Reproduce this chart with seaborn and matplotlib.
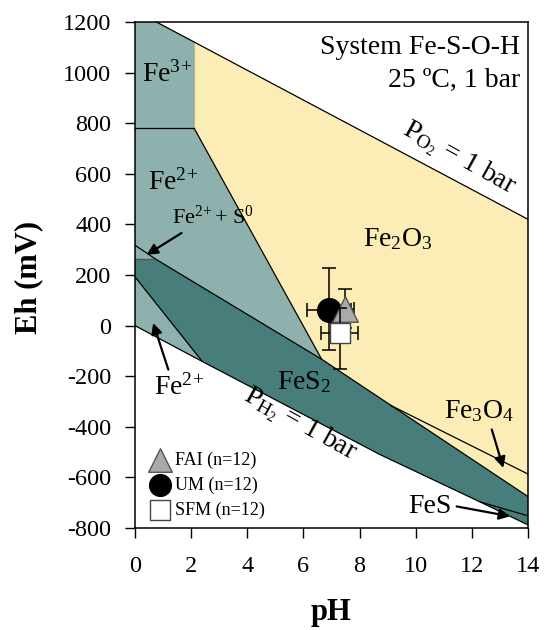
import numpy as np
import pandas as pd
import seaborn as sns
import matplotlib
matplotlib.use("Agg")
import matplotlib.pyplot as plt

# limites des champs de stabilité (pH, Eh en mV)
o2_ph = [0.77, 14]
o2_eh = [1200, 420]
h2_ph = [0, 2.4, 8.73, 12.29, 14]
h2_eh = [0, -142, -510, -697, -788]
fe3_ph = [0, 2.11]
fe3_eh = [780, 780]
vert_ph = [2.11, 2.11]
vert_eh = [780, 1121]
hem_ph = [2.11, 6.65]
hem_eh = [780, -133]
pyr_top_ph = [0, 0.72, 6.65, 14]
pyr_top_eh = [318, 264, -133, -676]
s0_ph = [0, 0.72]
s0_eh = [264, 264]
pyr_low_ph = [0, 2.4]
pyr_low_eh = [193, -142]
mag_ph = [9.1, 14]
mag_eh = [-315, -587]
fes_ph = [12.29, 14]
fes_eh = [-697, -752]

# données des sites
sites = ["UM (n=12)", "FAI (n=12)", "SFM (n=12)"]
site_ph = [6.9, 7.48, 7.3]
site_eh = [63, 66, -29]
ph_err = [0.78, 0.33, 0.66]
eh_err_low = [160, 77, 143]
eh_err_high = [165, 77, 100]

df = pd.DataFrame({"site": sites, "pH": site_ph, "Eh": site_eh,
                   "xerr": ph_err, "ylo": eh_err_low, "yhi": eh_err_high})

sns.set_style("ticks")
plt.rcParams["font.family"] = ["Liberation Serif", "DejaVu Serif"]
plt.rcParams["mathtext.fontset"] = "custom"
plt.rcParams["mathtext.rm"] = "Liberation Serif"
plt.rcParams["mathtext.it"] = "Liberation Serif:italic"
plt.rcParams["mathtext.bf"] = "Liberation Serif:bold"
plt.rcParams["axes.unicode_minus"] = False
for k in ["text.color", "axes.labelcolor", "xtick.color", "ytick.color", "axes.edgecolor"]:
    plt.rcParams[k] = "black"

light = "#8FB1AE"
dark = "#477D7B"
yellow = "#FBEDB5"

fig = plt.figure(figsize=(5.44, 6.30), dpi=100)
ax = fig.add_axes([0.248, 0.162, 0.7226, 0.803])

# champs colorés
o2_at = o2_eh[0] + (o2_eh[1] - o2_eh[0]) / (o2_ph[1] - o2_ph[0]) * (vert_ph[0] - o2_ph[0])
ax.fill([0, o2_ph[0], vert_ph[0], hem_ph[0], hem_ph[1], h2_ph[1], 0],
        [1200, o2_eh[0], o2_at, hem_eh[0], hem_eh[1], h2_eh[1], 0],
        color=light, lw=0, zorder=1)
ax.fill([0] + pyr_top_ph + [14] + h2_ph[::-1][1:-1] + [0],
        [s0_eh[0]] + [pyr_top_eh[1], pyr_top_eh[1]] + pyr_top_eh[2:] + [h2_eh[-1]] + h2_eh[::-1][1:-1] + [pyr_low_eh[0]],
        color=dark, lw=0, zorder=1)
ax.fill([vert_ph[0], o2_ph[1], 14, pyr_top_ph[3], hem_ph[1], hem_ph[0]],
        [o2_at, o2_eh[1], pyr_top_eh[3], pyr_top_eh[3], hem_eh[1], hem_eh[0]],
        color=yellow, lw=0, zorder=1)

# lignes de séparation
lines = [(o2_ph, o2_eh), (h2_ph, h2_eh), (fe3_ph, fe3_eh), (vert_ph, vert_eh),
         (hem_ph, hem_eh), (pyr_top_ph[1:], pyr_top_eh[1:]), (pyr_low_ph, pyr_low_eh),
         (mag_ph, mag_eh), (fes_ph, fes_eh)]
for xs, ys in lines:
    sns.lineplot(x=xs, y=ys, sort=False, color="black", lw=0.9, ax=ax, zorder=2)
ax.plot(pyr_top_ph[:2], pyr_top_eh[:2], color="black", lw=0.9, zorder=2)
ax.plot(s0_ph, s0_eh, color="#555555", lw=0.9, zorder=2)

# points avec barres d'erreur
styles = {
    "UM (n=12)": dict(marker="o", s=290, color="black", edgecolor="black"),
    "FAI (n=12)": dict(marker="^", s=340, color="#AAAAAA", edgecolor="#555555"),
    "SFM (n=12)": dict(marker="s", s=225, color="white", edgecolor="#444444"),
}
z = 5
for _, r in df.iterrows():
    ax.errorbar(r["pH"], r["Eh"], xerr=r["xerr"], yerr=[[r["ylo"]], [r["yhi"]]],
                fmt="none", ecolor="black", elinewidth=1.1, capsize=5, capthick=1.1, zorder=z)
    sns.scatterplot(x=[r["pH"]], y=[r["Eh"]], linewidth=1, zorder=z + 1,
                    label=r["site"], ax=ax, **styles[r["site"]])
    z += 2

handles, labels = ax.get_legend_handles_labels()
order = [labels.index(s) for s in ["FAI (n=12)", "UM (n=12)", "SFM (n=12)"]]
ax.legend([handles[i] for i in order], [labels[i] for i in order],
          loc="lower left", bbox_to_anchor=(0.018, 0.0), frameon=False,
          fontsize=13, markerscale=0.92, handlelength=1.0, handletextpad=0.35,
          labelspacing=0.42, borderaxespad=0.1)

# étiquettes
fs = 20
ax.text(13.72, 1074, "System Fe-S-O-H", ha="right", va="baseline", fontsize=fs)
ax.text(13.72, 943, "25 ºC, 1 bar", ha="right", va="baseline", fontsize=fs)
ax.text(11.55, 663, r"P$_{\mathrm{O}_2}$ = 1 bar", ha="center", va="center",
        rotation=-29, fontsize=fs)
ax.text(5.88, -392, r"P$_{\mathrm{H}_2}$ = 1 bar", ha="center", va="center",
        rotation=-29, fontsize=fs)
ax.text(0.24, 965, r"Fe$^{3\!+}$", fontsize=fs, va="baseline")
ax.text(0.47, 537, r"Fe$^{2\!+}$", fontsize=fs, va="baseline")
ax.text(1.31, 403, r"Fe$^{2\!+}$+ S$^{0}$", fontsize=16, va="baseline")
ax.text(0.68, -273, r"Fe$^{2\!+}$", fontsize=fs, va="baseline")
ax.text(8.14, 316, r"Fe$_2$O$_3$", fontsize=fs, va="baseline")
ax.text(5.05, -253, r"FeS$_2$", fontsize=fs, va="baseline")
ax.text(11.02, -365, r"Fe$_3$O$_4$", fontsize=fs, va="baseline")
ax.text(9.74, -741, "FeS", fontsize=fs, va="baseline")

arrows = [((0.42, 280), (1.66, 366)), ((0.65, 10), (1.19, -174)),
          ((13.12, -563), (12.71, -411)), ((13.36, -754), (11.46, -715))]
for head, tail in arrows:
    ax.annotate("", xy=head, xytext=tail,
                arrowprops=dict(arrowstyle="-|>", color="black", lw=1.6,
                                mutation_scale=16, shrinkA=0, shrinkB=0))

ax.set_xlim(0, 14)
ax.set_ylim(-800, 1200)
ax.set_xticks(np.arange(0, 15, 2))
ax.set_yticks(np.arange(-800, 1201, 200))
ax.tick_params(direction="out", length=7, width=1, labelsize=17.5)
ax.tick_params(axis="x", pad=13)
ax.tick_params(axis="y", pad=10)
for sp in ax.spines.values():
    sp.set_linewidth(1.1)
    sp.set_visible(True)
ax.set_xlabel("pH", fontsize=22, fontweight="bold")
ax.set_ylabel("Eh (mV)", fontsize=22, fontweight="bold")
ax.xaxis.set_label_coords(0.5, -0.138)
ax.yaxis.set_label_coords(-0.234, 0.496)

fig.savefig("out.png", dpi=100)
